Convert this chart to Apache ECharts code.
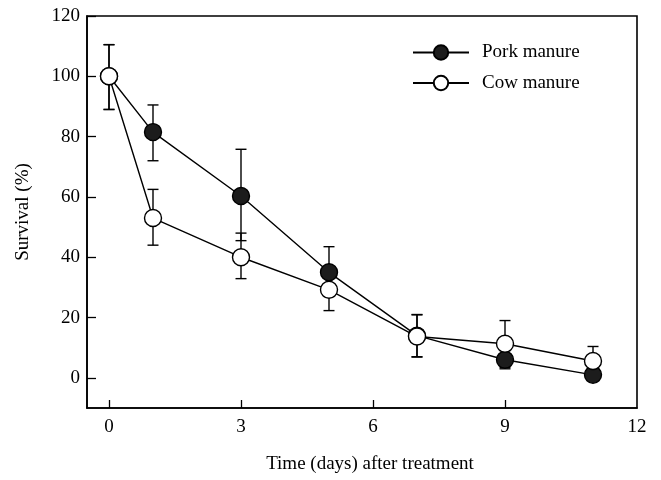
<!DOCTYPE html>
<html><head><meta charset="utf-8">
<script src="https://cdn.jsdelivr.net/npm/echarts@6/dist/echarts.min.js"></script>
<style>html,body{margin:0;padding:0;background:#fff}#c{width:661px;height:480px}</style>
</head><body><div id="c"></div>
<script>
const days = [0, 1, 3, 5, 7, 9, 11];
const porkMean = [100, 81.5, 60.3, 35, 14, 6, 1];
const porkLow  = [89, 72, 45.5, 27, 7, 3, 0];
const porkHigh = [110.5, 90.5, 75.8, 43.5, 21, 9, 2];
const cowMean  = [100, 53, 40, 29.2, 13.7, 11.3, 5.6];
const cowLow   = [89, 44, 32.9, 22.3, 6.9, 3.5, 1];
const cowHigh  = [110.5, 62.5, 48, 36, 20.9, 19, 10.4];
const xTicks = [0, 3, 6, 9];
const xTickLabels = [0, 3, 6, 9, 12];
const yTicks = [0, 20, 40, 60, 80, 100, 120];

const FONT = '"Liberation Serif", "DejaVu Serif", serif';
const chart = echarts.init(document.getElementById('c'), null, {renderer: 'canvas'});

function errSeries(name, low, high, z) {
  return {
    type: 'custom', name: name + ' err', z: z, silent: true,
    data: days.map((d, i) => [d, low[i], high[i]]),
    renderItem: function (params, api) {
      const x = api.value(0);
      const lo = api.coord([x, api.value(1)]);
      const hi = api.coord([x, api.value(2)]);
      const w = 5.5;
      const st = {stroke: '#000', lineWidth: 1.4};
      return {type: 'group', children: [
        {type: 'line', shape: {x1: lo[0], y1: lo[1], x2: hi[0], y2: hi[1]}, style: st},
        {type: 'line', shape: {x1: lo[0]-w, y1: lo[1], x2: lo[0]+w, y2: lo[1]}, style: st},
        {type: 'line', shape: {x1: hi[0]-w, y1: hi[1], x2: hi[0]+w, y2: hi[1]}, style: st}
      ]};
    }
  };
}

chart.setOption({
  animation: false,
  backgroundColor: '#fff',
  grid: {left: 87, top: 16, right: 24, bottom: 72, show: true, borderColor: '#000', borderWidth: 1.6, containLabel: false},
  legend: {
    orient: 'vertical', left: 412, top: 43, padding: 0,
    itemWidth: 56, itemHeight: 18, itemGap: 11.5,
    data: ['Pork manure', 'Cow manure'],
    textStyle: {fontFamily: FONT, fontSize: 19, color: '#000', padding: [0, 0, 0, 8]}
  },
  xAxis: {
    type: 'value', min: -0.5, max: 12,
    name: 'Time (days) after treatment', nameLocation: 'middle', nameGap: 47,
    nameTextStyle: {fontFamily: FONT, fontSize: 19, color: '#000', padding: [0, 0, 0, 16]},
    axisLine: {show: true, onZero: false, lineStyle: {color: '#000', width: 1.6}},
    axisTick: {show: true, inside: true, length: 8, customValues: xTicks, lineStyle: {color: '#000', width: 1.3}},
    axisLabel: {customValues: xTickLabels, margin: 10, fontFamily: FONT, fontSize: 19, color: '#000'},
    splitLine: {show: false}
  },
  yAxis: {
    type: 'value', min: -10, max: 120,
    name: 'Survival (%)', nameLocation: 'middle', nameGap: 54,
    nameTextStyle: {fontFamily: FONT, fontSize: 19, color: '#000'},
    axisLine: {show: true, onZero: false, lineStyle: {color: '#000', width: 1.6}},
    axisTick: {show: true, inside: true, length: 9, customValues: yTicks, lineStyle: {color: '#000', width: 1.3}},
    axisLabel: {customValues: yTicks, margin: 7, fontFamily: FONT, fontSize: 19, color: '#000'},
    splitLine: {show: false}
  },
  series: [
    errSeries('Pork', porkLow, porkHigh, 1),
    errSeries('Cow', cowLow, cowHigh, 1),
    {
      name: 'Pork manure', type: 'line', z: 3,
      data: days.map((d, i) => [d, porkMean[i]]),
      symbol: 'circle', symbolSize: 17,
      lineStyle: {color: '#000', width: 1.4},
      itemStyle: {color: '#1c1c1c', borderColor: '#000', borderWidth: 1.4}
    },
    {
      name: 'Cow manure', type: 'line', z: 4,
      data: days.map((d, i) => [d, cowMean[i]]),
      symbol: 'circle', symbolSize: 17,
      lineStyle: {color: '#000', width: 1.4},
      itemStyle: {color: '#fff', borderColor: '#000', borderWidth: 1.4}
    }
  ]
});
</script>
</body></html>
